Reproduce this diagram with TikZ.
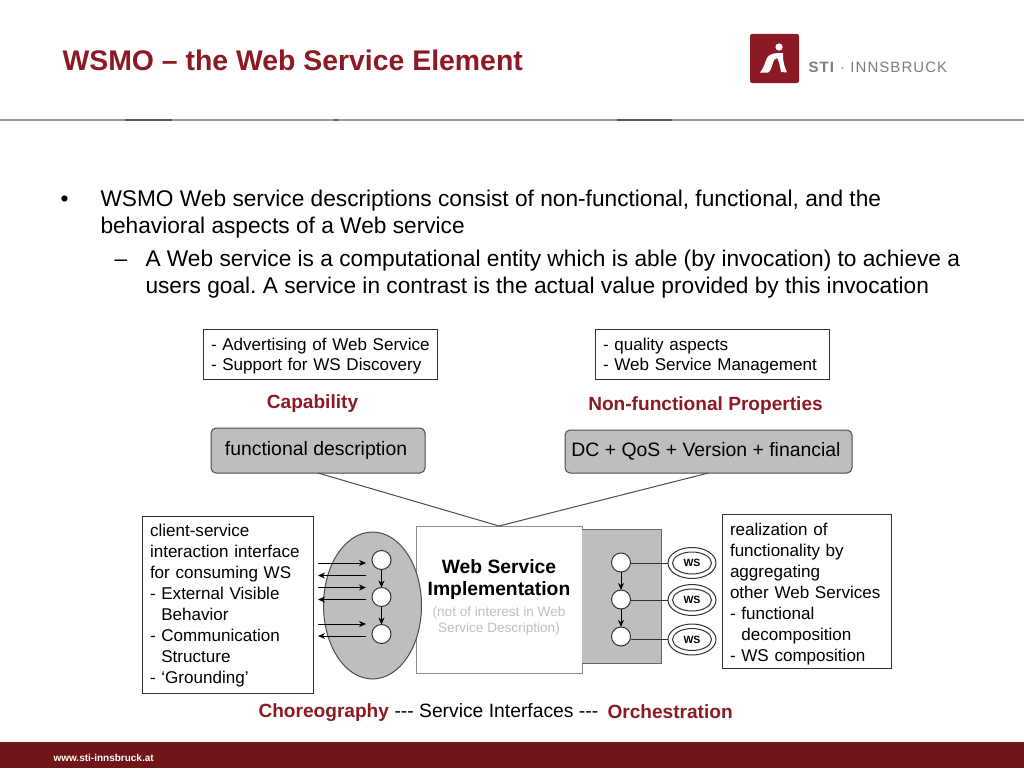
\documentclass[tikz,border=0pt]{standalone}
\usepackage{fontspec}
\setmainfont{Liberation Sans}
\newfontfamily\logofont[LetterSpace=7]{Liberation Sans}
\usetikzlibrary{arrows.meta, positioning, shapes.geometric}
\definecolor{stired}{RGB}{140,26,36}
\definecolor{stibar}{RGB}{113,22,24}
\definecolor{stigray}{RGB}{190,190,190}
\definecolor{stirule}{RGB}{150,150,150}
\definecolor{stilogo}{RGB}{125,125,125}
\begin{document}
\begin{tikzpicture}[
    x=1pt, y=-1pt,
    bodytext/.style={anchor=base west, inner sep=0pt, font=\fontsize{22.7}{26}\selectfont\frenchspacing},
    notebox/.style={rectangle, draw=black!80, fill=white, inner xsep=8pt, inner ysep=0pt,
                    outer sep=0pt, align=left, font=\fontsize{17.05}{21}\selectfont},
    greybox/.style={rectangle, rounded corners=5pt, draw=black!70, fill=stigray, inner sep=0pt,
                    outer sep=0pt, font=\fontsize{19.4}{22}\selectfont},
    redlabel/.style={inner sep=0pt, text=stired, font=\fontsize{19.1}{22}\selectfont\bfseries},
    dot/.style={circle, draw=black!80, fill=white, minimum size=19pt, inner sep=0pt, outer sep=0pt},
    wsnode/.style={ellipse, draw=black!80, fill=white, minimum width=39pt, minimum height=22pt,
                   inner sep=0pt, font=\fontsize{10.5}{12}\selectfont\bfseries},
    step arrow/.style={-{Stealth[length=7pt,width=6pt]}, black},
    msg arrow/.style={-{Stealth[length=7pt,width=6pt]}, black, line width=0.8pt},
    line width=1pt
]
\useasboundingbox (0,0) rectangle (1024,768);
\fill[white] (0,0) rectangle (1024,768);
% header
\node[anchor=base west, inner sep=0pt, text=stired, font=\fontsize{28.4}{34}\selectfont\bfseries] (title) at (62,70.5)
    {WSMO -- the Web Service Element};
\fill[stired, rounded corners=2pt] (750,34) rectangle (799,83);
\fill[white] (779,47) circle (3.6);
\fill[white] (760,72.5) .. controls (764,68) and (765,62) .. (767,58)
    .. controls (769,54) and (773,53) .. (783,53) -- (783,57)
    .. controls (783,62) and (785,68) .. (787,72.5) -- (781,72)
    .. controls (780,66) and (779,61) .. (777,58)
    .. controls (772,58) and (773,70) .. (768,72.5) -- cycle;
\node[anchor=base west, inner sep=0pt, text=stilogo, font=\logofont\fontsize{15}{18}\selectfont] (logotext) at (808,72.5)
    {\textbf{STI} · INNSBRUCK};
\draw[stirule, line width=1.5pt] (0,120) -- (1024,120);
\draw[black!65, line width=1.5pt] (125,120) -- (172,120);
\draw[black!65, line width=1.5pt] (334,120) -- (338,120);
\draw[black!65, line width=1.5pt] (617,120) -- (672,120);
% text
\node[bodytext] (b1) at (60,206.5) {•};
\node[bodytext] (l1) at (100,206.5) {WSMO Web service descriptions consist of non-functional, functional, and the};
\node[bodytext] (l2) at (100,233.5) {behavioral aspects of a Web service};
\node[bodytext] (b2) at (114,266.5) {--};
\node[bodytext] (l3) at (145,266.5) {A Web service is a computational entity which is able (by invocation) to achieve a};
\node[bodytext] (l4) at (145,293.5) {users goal. A service in contrast is the actual value provided by this invocation};
% top of the figure
\node[notebox, anchor=north west, text width=218pt, minimum height=50pt, font=\fontsize{17.05}{20}\selectfont] (advert) at (203,329)
    {\rule{0pt}{17.5pt}\mbox{- Advertising of Web Service}\\- Support for WS Discovery};
\node[notebox, anchor=north west, text width=218pt, minimum height=50pt, font=\fontsize{17.05}{20}\selectfont] (quality) at (595,329)
    {\rule{0pt}{17.5pt}- quality aspects\\- Web Service Management};
\node[redlabel, below=15pt of advert, xshift=-7.5pt] (capability) {Capability};
\node[redlabel, below=17pt of quality, xshift=-6.5pt] (nonfunc) {Non-functional Properties};
\node[greybox, anchor=north west, minimum width=214pt, minimum height=45pt] (funcdesc) at (211,428) {\hspace*{-4pt}functional description};
\node[greybox, anchor=north west, minimum width=287pt, minimum height=43pt] (dcqos) at (565,430) {\hspace*{-5pt}DC + QoS + Version + financial};
% middle
\node[rectangle, draw=black!45, fill=white, anchor=north west, minimum width=166pt, minimum height=147pt,
      inner sep=0pt, outer sep=0pt] (impl) at (416,526) {};
\node[font=\fontsize{19.3}{22}\selectfont\bfseries, align=center, inner sep=0pt] (impltitle) at (499,580)
    {Web Service\\Implementation};
\node[below=6pt of impltitle, text=black!25, font=\fontsize{13.6}{16}\selectfont, align=center, inner sep=0pt] (implnote)
    {(not of interest in Web\\Service Description)};
\draw[black!70] (funcdesc.south) -- (impl.north);
\draw[black!70] (dcqos.south) -- (impl.north);
% choreography
\node[notebox, anchor=north west, text width=155pt, minimum height=177pt] (client) at (142,516)
    {\rule{0pt}{15pt}client-service\\interaction interface\\for consuming WS\\- External Visible\\\ \ Behavior\\- Communication\\\ \ Structure\\- ‘Grounding’};
\node[ellipse, draw=black!70, fill=stigray, minimum width=98pt, minimum height=147pt, inner sep=0pt] (chor) at (372.5,605.5) {};
\node[dot] (c1) at (381.5,560) {};
\node[dot, below=18pt of c1] (c2) {};
\node[dot, below=18pt of c2] (c3) {};
\draw[step arrow] (c1) -- (c2);
\draw[step arrow] (c2) -- (c3);
\foreach \i/\yy in {1/563,2/587.5,3/624} {
    \coordinate (inl\i) at (318,\yy);
    \coordinate (inr\i) at (366,\yy);
    \draw[msg arrow] (inl\i) -- (inr\i);
}
\foreach \i/\yy in {1/575.5,2/599.5,3/636} {
    \coordinate (outl\i) at (318,\yy);
    \coordinate (outr\i) at (366,\yy);
    \draw[msg arrow] (outr\i) -- (outl\i);
}
% orchestration
\fill[stigray] (582,529) rectangle (661,663);
\draw[black!60] (582,529) -- (661,529) -- (661,663) -- (582,663);
\node[dot] (o1) at (621,562.5) {};
\node[dot, below=18pt of o1] (o2) {};
\node[dot, below=18pt of o2] (o3) {};
\draw[step arrow] (o1) -- (o2);
\draw[step arrow] (o2) -- (o3);
\foreach \i/\yy in {1/563,2/600,3/639.5} {
    \node[ellipse, draw=black!80, fill=white, minimum width=48pt, minimum height=31pt, inner sep=0pt] (wsouter\i) at (692,\yy) {};
    \node[wsnode] (ws\i) at (692,\yy) {WS};
    \draw[black!80] (o\i.east |- wsouter\i.west) -- (wsouter\i.west);
}
\node[notebox, anchor=north west, text width=153pt, minimum height=154pt] (realize) at (722,514)
    {\rule{0pt}{18pt}realization of\\functionality by\\aggregating\\other Web Services\\- functional\\\ \ decomposition\\- WS composition};
% captions
\node[redlabel, anchor=base west] (chorlabel) at (258,717) {Choreography};
\node[anchor=base west, inner sep=0pt, font=\fontsize{19.3}{22}\selectfont] (ifacelabel) at (394,717) {{-}{-}{-} Service Interfaces {-}{-}{-}};
\node[redlabel, anchor=base west] (orchlabel) at (607,718) {Orchestration};
% footer
\fill[stibar] (0,742) rectangle (1024,768);
\node[anchor=base west, inner sep=0pt, text=white, font=\fontsize{10}{12}\selectfont\bfseries] (footer) at (53,761) {www.sti-innsbruck.at};
\end{tikzpicture}
\end{document}
